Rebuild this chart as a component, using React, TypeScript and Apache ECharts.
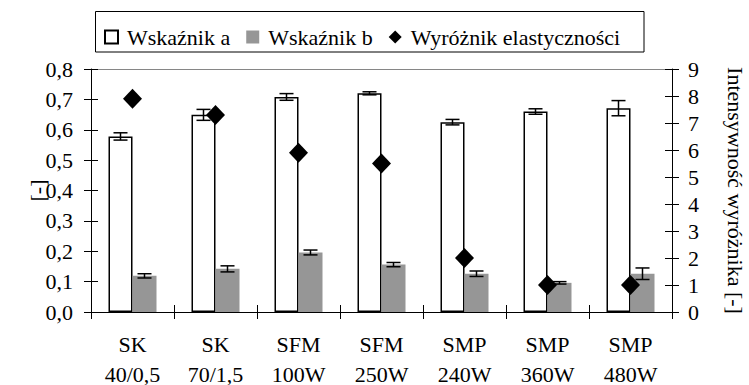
import React, { useEffect, useRef } from "react";
import * as echarts from "echarts";

const catTop = ["SK", "SK", "SFM", "SFM", "SMP", "SMP", "SMP"];
const catBottom = ["40/0,5", "70/1,5", "100W", "250W", "240W", "360W", "480W"];
const wskA = [0.578, 0.649, 0.708, 0.72, 0.625, 0.66, 0.671];
const wskAErr = [0.012, 0.018, 0.011, 0.005, 0.009, 0.009, 0.025];
const wskB = [0.119, 0.142, 0.196, 0.156, 0.126, 0.096, 0.126];
const wskBErr = [0.007, 0.01, 0.008, 0.007, 0.009, 0.004, 0.019];
const wyroznik = [7.9, 7.3, 5.9, 5.5, 2.0, 1.0, 1.0];
const leftTickLabels = ["0,0", "0,1", "0,2", "0,3", "0,4", "0,5", "0,6", "0,7", "0,8"];
const rightTickLabels = ["0", "1", "2", "3", "4", "5", "6", "7", "8", "9"];

const FONT = "'Liberation Serif', 'Times New Roman', serif";
const BAR_W = 24;

function errSeries(vals: number[], errs: number[], offset: number) {
  return {
    type: "custom",
    xAxisIndex: 0,
    yAxisIndex: 0,
    z: 5,
    silent: true,
    encode: { x: 0, y: 1 },
    data: vals.map((v, i) => [i, v, errs[i]]),
    renderItem: (params: any, api: any) => {
      const i = api.value(0);
      const v = api.value(1);
      const e = api.value(2);
      const top = api.coord([i, v + e]);
      const bot = api.coord([i, v - e]);
      const x = top[0] + offset;
      const style = { stroke: "#000", lineWidth: 1.5 };
      const hw = 7;
      return {
        type: "group",
        children: [
          { type: "line", shape: { x1: x, y1: top[1], x2: x, y2: bot[1] }, style },
          { type: "line", shape: { x1: x - hw, y1: top[1], x2: x + hw, y2: top[1] }, style },
          { type: "line", shape: { x1: x - hw, y1: bot[1], x2: x + hw, y2: bot[1] }, style },
        ],
      };
    },
  };
}

export default function App() {
  const ref = useRef<HTMLDivElement>(null);
  useEffect(() => {
    if (!ref.current) return;
    const chart = echarts.init(ref.current, undefined, { renderer: "svg" });
    const categories = catTop.map((t, i) => t + "\n" + catBottom[i]);
    const labelStyle = { color: "#000", fontSize: 22, fontFamily: FONT };
    const tick = { show: true, length: 7, lineStyle: { color: "#000", width: 1 } };
    const innerTick = { show: true, inside: true, length: 7, lineStyle: { color: "#000", width: 1 } };
    chart.setOption({
      animation: false,
      textStyle: { fontFamily: FONT },
      grid: { left: 91, right: 77, top: 69, bottom: 73, outerBoundsMode: "none", containLabel: false },
      graphic: [
        {
          type: "rect",
          shape: { x: 95.5, y: 11.5, width: 548.5, height: 40.5 },
          style: { fill: "#fff", stroke: "#000", lineWidth: 1 },
          z: -1,
        },
      ],
      legend: {
        left: 99,
        top: 21,
        itemWidth: 13,
        itemHeight: 13,
        itemGap: 16,
        textStyle: { color: "#000", fontSize: 22, fontFamily: FONT, padding: [0, 0, 0, 4] },
        data: [
          { name: "Wskaźnik a", icon: "rect" },
          { name: "Wskaźnik b", icon: "rect", textStyle: { padding: [0, 25, 0, 4] } },
          { name: "Wyróżnik elastyczności", icon: "diamond" },
        ],
      },
      xAxis: [
        {
          type: "category",
          data: categories,
          position: "bottom",
          axisLine: { show: true, onZero: false, lineStyle: { color: "#000", width: 1 } },
          axisTick: tick,
          axisLabel: { ...labelStyle, interval: 0, margin: 17, lineHeight: 30 },
          splitLine: { show: false },
        },
        {
          type: "category",
          data: categories,
          position: "bottom",
          axisLine: { show: false, onZero: false },
          axisTick: innerTick,
          axisLabel: { show: false },
          splitLine: { show: false },
        },
        {
          type: "category",
          data: categories,
          position: "top",
          axisLine: { show: true, onZero: false, lineStyle: { color: "#868686", width: 1 } },
          axisTick: { show: false },
          axisLabel: { show: false },
          splitLine: { show: false },
        },
      ],
      yAxis: [
        {
          type: "value",
          position: "left",
          min: 0,
          max: 0.8,
          interval: 0.1,
          axisLine: { show: true, onZero: false, lineStyle: { color: "#000", width: 1 } },
          axisTick: tick,
          axisLabel: {
            ...labelStyle,
            margin: 18,
            formatter: (v: number) => leftTickLabels[Math.round(v * 10)],
          },
          splitLine: { show: false },
          name: "[-]",
          nameLocation: "middle",
          nameRotate: 90,
          nameGap: 43,
          nameMoveOverlap: false,
          nameTextStyle: { ...labelStyle },
        },
        {
          type: "value",
          position: "right",
          min: 0,
          max: 9,
          interval: 1,
          axisLine: { show: true, onZero: false, lineStyle: { color: "#000", width: 1 } },
          axisTick: tick,
          axisLabel: {
            ...labelStyle,
            margin: 16,
            formatter: (v: number) => rightTickLabels[Math.round(v)],
          },
          splitLine: { show: false },
          name: "Intensywność wyróżnika [-]",
          nameLocation: "middle",
          nameRotate: -90,
          nameGap: 52,
          nameMoveOverlap: false,
          nameTextStyle: { ...labelStyle },
        },
        {
          type: "value",
          position: "left",
          min: 0,
          max: 0.8,
          interval: 0.1,
          axisLine: { show: false, onZero: false },
          axisTick: innerTick,
          axisLabel: { show: false },
          splitLine: { show: false },
        },
        {
          type: "value",
          position: "right",
          min: 0,
          max: 9,
          interval: 1,
          axisLine: { show: false, onZero: false },
          axisTick: innerTick,
          axisLabel: { show: false },
          splitLine: { show: false },
        },
      ],
      series: [
        {
          name: "Wskaźnik a",
          type: "bar",
          xAxisIndex: 0,
          yAxisIndex: 0,
          data: wskA,
          barWidth: BAR_W,
          barGap: "0%",
          z: 2,
          itemStyle: { color: "#fff", borderColor: "#000", borderWidth: 1.5 },
        },
        {
          name: "Wskaźnik b",
          type: "bar",
          xAxisIndex: 0,
          yAxisIndex: 0,
          data: wskB,
          barWidth: BAR_W,
          barGap: "0%",
          z: 2,
          itemStyle: { color: "#969696" },
        },
        errSeries(wskA, wskAErr, -BAR_W / 2),
        errSeries(wskB, wskBErr, BAR_W / 2),
        {
          name: "Wyróżnik elastyczności",
          type: "scatter",
          xAxisIndex: 0,
          yAxisIndex: 1,
          data: wyroznik,
          symbol: "diamond",
          symbolSize: [19, 20],
          z: 6,
          itemStyle: { color: "#000", opacity: 1 },
        },
      ],
    });
    return () => chart.dispose();
  }, []);
  return (
    <div
      ref={ref}
      style={{ position: "fixed", left: 0, top: 0, width: 749, height: 385, background: "#fff" }}
    />
  );
}
